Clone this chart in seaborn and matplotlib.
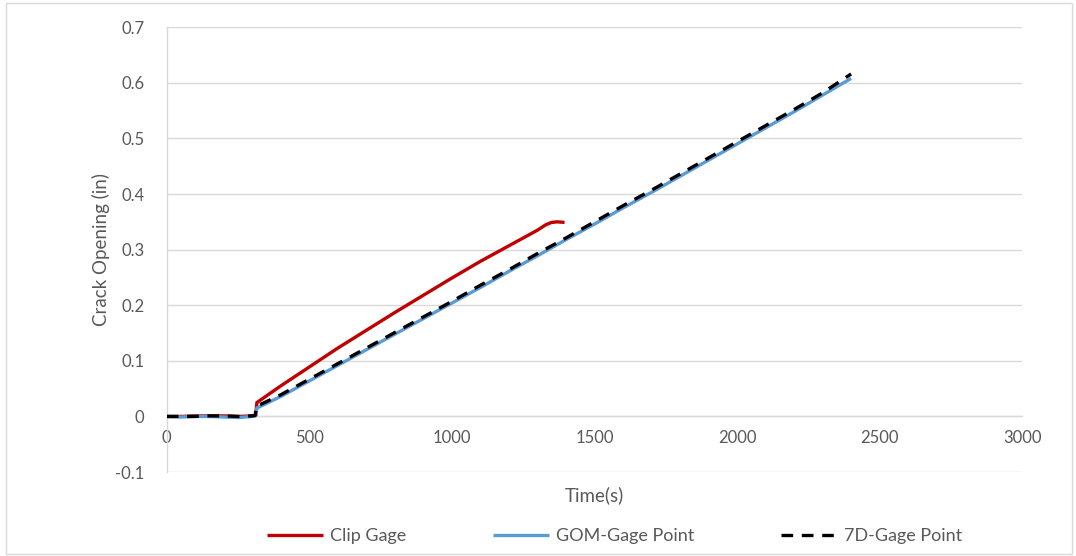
import matplotlib
matplotlib.use("Agg")
import matplotlib.pyplot as plt
import seaborn as sns
import pandas as pd

# Clip gage readings (time in s, opening in in)
clip_time = [0, 50, 100, 150, 200, 250, 300, 312, 316, 400, 500, 600, 700, 800,
             900, 1000, 1100, 1200, 1250, 1300, 1330, 1350, 1370, 1395]
clip_open = [0.000, 0.000, 0.001, 0.001, 0.001, 0.000, 0.001, 0.002, 0.025, 0.055,
             0.089, 0.123, 0.155, 0.187, 0.218, 0.249, 0.279, 0.307, 0.321, 0.335,
             0.345, 0.349, 0.350, 0.349]

# GOM virtual gage point
gom_time = [0, 50, 100, 150, 200, 250, 300, 312, 316, 400, 500, 600, 700, 800, 900,
            1000, 1100, 1200, 1300, 1400, 1500, 1600, 1700, 1800, 1900, 2000,
            2100, 2200, 2300, 2400]
gom_open = [0.000, -0.001, 0.000, 0.000, -0.001, -0.002, 0.000, 0.001, 0.015, 0.036,
            0.064, 0.092, 0.120, 0.148, 0.176, 0.204, 0.232, 0.261, 0.289, 0.318,
            0.346, 0.375, 0.403, 0.432, 0.461, 0.490, 0.519, 0.548, 0.578, 0.608]

# 7D gage point
d7_time = [0, 50, 100, 150, 200, 250, 300, 310, 314, 400, 500, 600, 700, 800, 900,
           1000, 1100, 1200, 1300, 1400, 1500, 1600, 1700, 1800, 1900, 2000,
           2100, 2200, 2300, 2400]
d7_open = [0.000, 0.000, 0.000, 0.001, 0.001, 0.000, 0.001, 0.002, 0.018, 0.039,
           0.067, 0.095, 0.123, 0.151, 0.179, 0.207, 0.236, 0.264, 0.293, 0.321,
           0.350, 0.379, 0.407, 0.436, 0.465, 0.494, 0.523, 0.552, 0.582, 0.616]

series_names = ["Clip Gage", "GOM-Gage Point", "7D-Gage Point"]

x_ticks = [0, 500, 1000, 1500, 2000, 2500, 3000]
y_ticks = [-0.1, 0, 0.1, 0.2, 0.3, 0.4, 0.5, 0.6, 0.7]
y_tick_labels = ["-0.1", "0", "0.1", "0.2", "0.3", "0.4", "0.5", "0.6", "0.7"]

sns.set_theme(style="white")
plt.rcParams["font.family"] = ["Lato", "DejaVu Sans"]

text_gray = "#595959"
grid_gray = "#d9d9d9"

fig = plt.figure(figsize=(10.76, 5.56), dpi=100)
ax = fig.add_axes([0.155, 0.151, 0.795, 0.800])

frames = {
    series_names[0]: pd.DataFrame({"t": clip_time, "v": clip_open}),
    series_names[1]: pd.DataFrame({"t": gom_time, "v": gom_open}),
    series_names[2]: pd.DataFrame({"t": d7_time, "v": d7_open}),
}

sns.lineplot(data=frames[series_names[0]], x="t", y="v", ax=ax, color="#C00000",
             linewidth=2.4, label=series_names[0], sort=False, zorder=3)
sns.lineplot(data=frames[series_names[1]], x="t", y="v", ax=ax, color="#5B9BD5",
             linewidth=2.4, label=series_names[1], sort=False, zorder=4)
sns.lineplot(data=frames[series_names[2]], x="t", y="v", ax=ax, color="black",
             linewidth=2.4, label=series_names[2], sort=False, zorder=5,
             dashes=(3.5, 2.6))
for line in ax.get_lines():
    line.set_solid_capstyle("butt")
    line.set_dash_capstyle("butt")

ax.set_xlim(0, 3000)
ax.set_ylim(-0.1, 0.7)
ax.set_xticks(x_ticks)
ax.set_yticks(y_ticks)
ax.set_xticklabels([str(v) for v in x_ticks])
ax.set_yticklabels(y_tick_labels)
ax.tick_params(axis="both", length=0, labelsize=12, colors=text_gray)
ax.tick_params(axis="y", pad=16)
ax.tick_params(axis="x", pad=10)

ax.yaxis.grid(True, color=grid_gray, linewidth=1.0)
ax.xaxis.grid(False)
ax.set_axisbelow(True)

for side in ["top", "right"]:
    ax.spines[side].set_visible(False)
ax.spines["left"].set_color(grid_gray)
ax.spines["left"].set_linewidth(1.0)
ax.spines["bottom"].set_position(("data", 0))
ax.spines["bottom"].set_color(grid_gray)
ax.spines["bottom"].set_linewidth(1.0)

ax.set_xlabel("Time(s)", fontsize=13.5, color=text_gray)
ax.set_ylabel("Crack Opening (in)", fontsize=13.5, color=text_gray, labelpad=4)
# x label sits below the -0.1 line, under the axis that crosses at zero
ax.xaxis.set_label_coords(0.5, -0.031)

ax.get_legend().remove()
handles, labels = ax.get_legend_handles_labels()
leg = fig.legend(handles, labels, loc="center", bbox_to_anchor=(0.571, 0.036),
                 ncol=3, frameon=False, fontsize=13, handlelength=3.1,
                 handletextpad=0.4, columnspacing=4.8)
for txt in leg.get_texts():
    txt.set_color(text_gray)

# thin border around the whole chart area
fig.patches.append(plt.Rectangle((0.006, 0.004), 0.99, 0.99, transform=fig.transFigure,
                                 fill=False, edgecolor=grid_gray, linewidth=1.0))

fig.savefig("out.png", dpi=100)
